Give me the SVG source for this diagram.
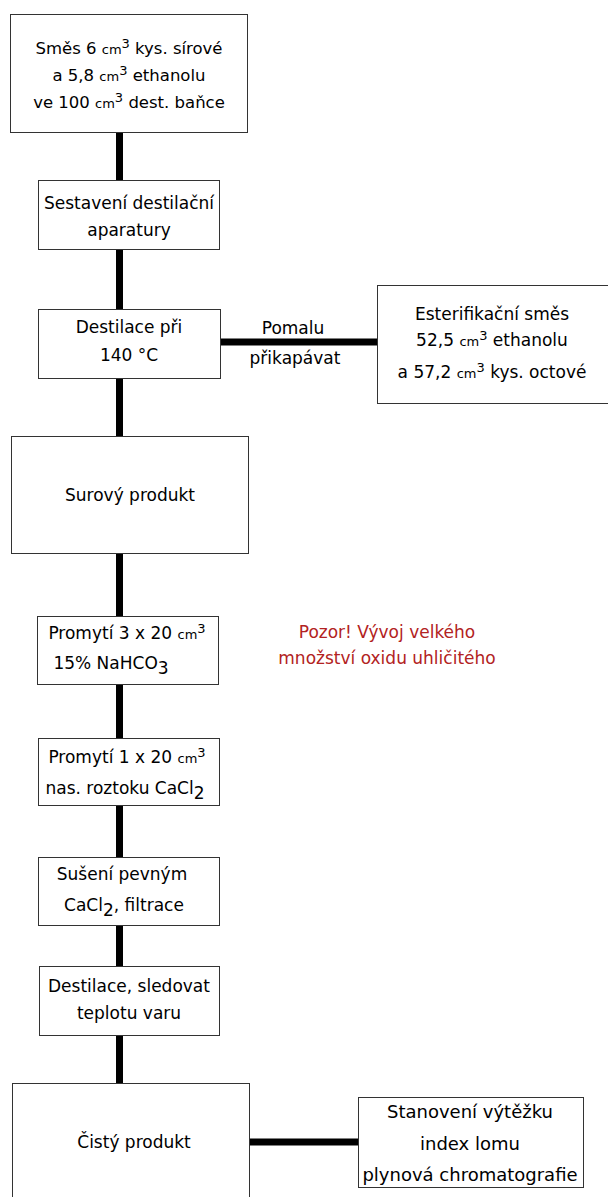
<svg xmlns="http://www.w3.org/2000/svg" width="608" height="1197" viewBox="0 0 608 1197">
<style>
.box{fill:#fff;stroke:#333;stroke-width:1}
.t{font-family:"DejaVu Sans",sans-serif;font-size:17px;fill:#000;text-anchor:middle}
.s{font-size:13px}
.sm{font-size:16.5px}
.big{font-size:18px}
.red{fill:#b22222}
.c{stroke:#000;stroke-width:7;fill:none}
</style>
<rect width="608" height="1197" fill="#fff"/>
<g id="connectors">
<line class="c" x1="119.5" y1="132" x2="119.5" y2="1083"/>
<line class="c" x1="220" y1="342" x2="377" y2="342"/>
<line class="c" x1="249" y1="1142" x2="358" y2="1142"/>
</g>
<g id="n1">
<rect class="box" x="10.5" y="14.5" width="237" height="118"/>
<text class="t sm" x="129" y="54">Směs 6 <tspan class="s">cm</tspan><tspan class="s" dy="-6">3</tspan><tspan dy="6"> kys. sírové</tspan></text>
<text class="t sm" x="129" y="81">a 5,8 <tspan class="s">cm</tspan><tspan class="s" dy="-6">3</tspan><tspan dy="6"> ethanolu</tspan></text>
<text class="t sm" x="129" y="108">ve 100 <tspan class="s">cm</tspan><tspan class="s" dy="-6">3</tspan><tspan dy="6"> dest. baňce</tspan></text>
</g>
<g id="n2">
<rect class="box" x="38.5" y="180.5" width="181" height="69"/>
<text class="t" x="129" y="209">Sestavení destilační</text>
<text class="t" x="129" y="236">aparatury</text>
</g>
<g id="n3">
<rect class="box" x="38.5" y="309.5" width="182" height="69"/>
<text class="t" x="129" y="333">Destilace při</text>
<text class="t" x="129" y="361">140 °C</text>
</g>
<g id="label-pomalu">
<text class="t" x="293" y="334">Pomalu</text>
<text class="t" x="295" y="364">přikapávat</text>
</g>
<g id="n4">
<rect class="box" x="377.5" y="285.5" width="235" height="118"/>
<text class="t" x="492" y="320">Esterifikační směs</text>
<text class="t" x="492" y="346">52,5 <tspan class="s">cm</tspan><tspan class="s" dy="-6">3</tspan><tspan dy="6"> ethanolu</tspan></text>
<text class="t" x="492" y="378">a 57,2 <tspan class="s">cm</tspan><tspan class="s" dy="-6">3</tspan><tspan dy="6"> kys. octové</tspan></text>
</g>
<g id="n5">
<rect class="box" x="11.5" y="436.5" width="237" height="117"/>
<text class="t" x="130" y="501">Surový produkt</text>
</g>
<g id="n6">
<rect class="box" x="37.5" y="616.5" width="181" height="68"/>
<text class="t" x="127" y="639">Promytí 3 x 20 <tspan class="s">cm</tspan><tspan class="s" dy="-6">3</tspan></text>
<text class="t" x="111" y="669">15% NaHCO<tspan dy="5">3</tspan></text>
</g>
<g id="note">
<text class="t red" x="387" y="638">Pozor! Vývoj velkého</text>
<text class="t red" x="387" y="664">množství oxidu uhličitého</text>
</g>
<g id="n7">
<rect class="box" x="38.5" y="738.5" width="181" height="67"/>
<text class="t" x="127" y="763">Promytí 1 x 20 <tspan class="s">cm</tspan><tspan class="s" dy="-6">3</tspan></text>
<text class="t" x="125" y="794">nas. roztoku CaCl<tspan dy="5">2</tspan></text>
</g>
<g id="n8">
<rect class="box" x="38.5" y="857.5" width="181" height="68"/>
<text class="t" x="122" y="880">Sušení pevným</text>
<text class="t" x="124" y="911">CaCl<tspan dy="5">2</tspan><tspan dy="-5">, filtrace</tspan></text>
</g>
<g id="n9">
<rect class="box" x="39.5" y="966.5" width="180" height="69"/>
<text class="t" x="129" y="992">Destilace, sledovat</text>
<text class="t" x="129" y="1019">teplotu varu</text>
</g>
<g id="n10">
<rect class="box" x="12.5" y="1083.5" width="237" height="120"/>
<text class="t" x="134" y="1148">Čistý produkt</text>
</g>
<g id="n11">
<rect class="box" x="358.5" y="1097.5" width="225" height="90"/>
<text class="t big" x="470" y="1118">Stanovení výtěžku</text>
<text class="t big" x="470" y="1150">index lomu</text>
<text class="t big" x="470" y="1181">plynová chromatografie</text>
</g>
</svg>
